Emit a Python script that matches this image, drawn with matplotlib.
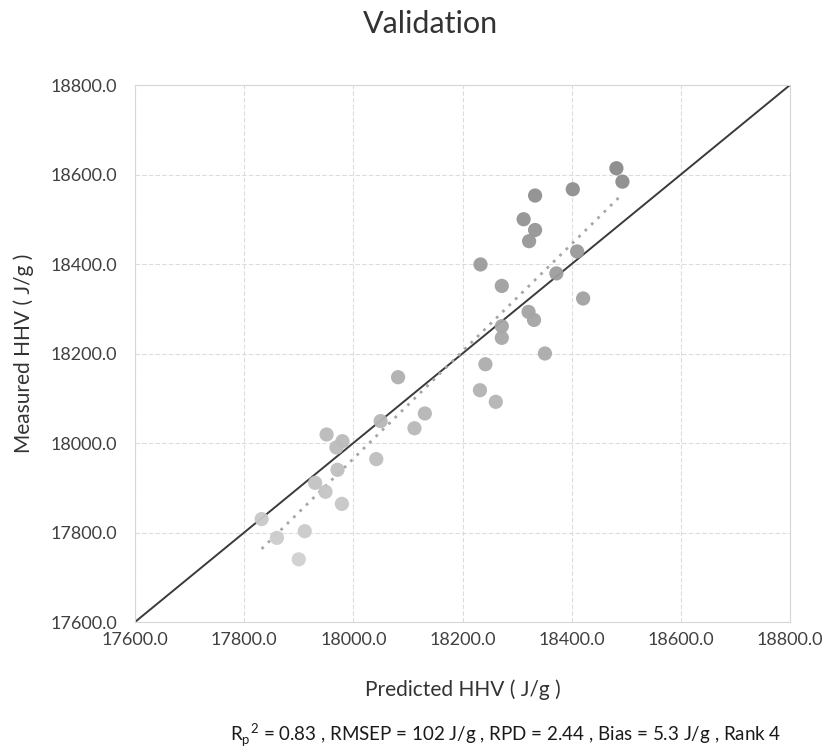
import matplotlib
matplotlib.use("Agg")
import matplotlib.pyplot as plt
from matplotlib.colors import LinearSegmentedColormap
import numpy as np

# predicted vs measured HHV (J/g)
predicted = [18482, 18493, 18402, 18333, 18312, 18333, 18322, 18410, 18233, 18372,
             18272, 18421, 18321, 18331, 18272, 18272, 18351, 18242, 18232, 18261,
             18082, 18131, 18112, 18050, 18042, 17951, 17980, 17969, 17971, 17930,
             17949, 17979, 17832, 17911, 17860, 17900]
measured = [18614, 18584, 18567, 18553, 18500, 18476, 18451, 18428, 18399, 18379,
            18351, 18323, 18293, 18275, 18261, 18235, 18200, 18176, 18118, 18092,
            18147, 18066, 18033, 18049, 17964, 18019, 18004, 17990, 17940, 17911,
            17891, 17864, 17830, 17803, 17788, 17740]
axis_ticks = [17600, 17800, 18000, 18200, 18400, 18600, 18800]
stats_text = (r"R$_\mathregular{p}$$^\mathregular{2}$ = 0.83 , RMSEP = 102 J/g , "
              "RPD = 2.44 , Bias = 5.3 J/g , Rank 4")

plt.rcParams["font.family"] = ["Lato", "DejaVu Sans"]
text_col = "#333333"

fig = plt.figure(figsize=(8.24, 7.52), dpi=100)
ax = fig.add_axes([135 / 824, 1 - 622 / 752, 655 / 824, 537 / 752])

lo, hi = axis_ticks[0], axis_ticks[-1]
ax.set_xlim(lo, hi)
ax.set_ylim(lo, hi)

ax.grid(True, color="#dcdcdc", lw=0.8, ls=(0, (4, 2)))
ax.set_axisbelow(True)
for sp in ax.spines.values():
    sp.set_color("#d6d6d6")
    sp.set_linewidth(0.8)

# 1:1 line
ax.plot([lo, hi], [lo, hi], color="#3a3a3a", lw=1.4, zorder=2)

# fitted trend (dotted)
x = np.array(predicted, dtype=float)
y = np.array(measured, dtype=float)
k, b = np.polyfit(x, y, 1)
xs = np.array([x.min(), x.max()])
ax.plot(xs, k * xs + b, color="#a6a6a6", lw=2.0, ls=(0, (1, 2.2)), zorder=3)

cmap = LinearSegmentedColormap.from_list("grey_ramp", ["#d0d0d0", "#8a8a8a"])
ax.scatter(x, y, c=y, cmap=cmap, vmin=17740, vmax=18614, s=105,
           edgecolors="none", alpha=0.95, zorder=4)

ax.set_xticks(axis_ticks)
ax.set_yticks(axis_ticks)
ax.set_xticklabels([f"{t:.1f}" for t in axis_ticks])
ax.set_yticklabels([f"{t:.1f}" for t in axis_ticks])
ax.tick_params(length=0, labelsize=13, labelcolor="#404040")
ax.tick_params(axis="y", pad=13)
ax.tick_params(axis="x", pad=7)

ax.set_xlabel("Predicted HHV ( J/g )", fontsize=15, color=text_col, labelpad=23)
ax.set_ylabel("Measured HHV ( J/g )", fontsize=15, color=text_col, labelpad=12)

fig.text(430 / 824, 1 - 24 / 752, "Validation", ha="center", va="center",
         fontsize=22, color=text_col)
fig.text(506 / 824, 1 - 735 / 752, stats_text, ha="center", va="center",
         fontsize=13.5, color="#1a1a1a")

fig.savefig("out.png", dpi=100)
